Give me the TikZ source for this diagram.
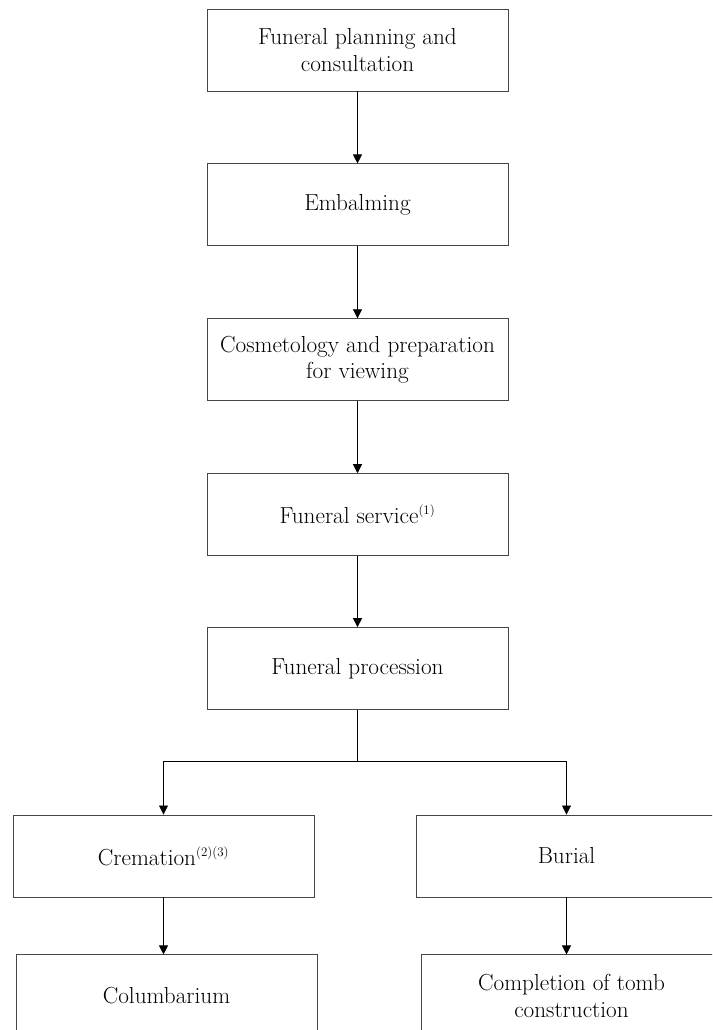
\documentclass[tikz,border=0pt]{standalone}
\usepackage{fontspec}
\usetikzlibrary{positioning, arrows.meta}
\definecolor{boxgray}{RGB}{70,70,70}

\newcommand{\fnmark}[1]{\textsuperscript{\fontsize{13}{13}\selectfont#1}}

\tikzset{
	stepbox/.style = {rectangle, draw = boxgray, line width = 0.9pt, minimum width = 301pt, minimum height = 82pt, align = center, inner sep = 2pt, font = \fontsize{23.2}{26.5}\selectfont},
	link/.style = {line width = 0.8pt, -{Triangle[width = 9pt, length = 9pt]}},
	plainlink/.style = {line width = 0.8pt}
}

\begin{document}
\begin{tikzpicture}

\useasboundingbox (0,0) rectangle (712pt,1030pt);
\clip (0,0) rectangle (712pt,1030pt);

%----------MAIN CHAIN-------------%
\node [stepbox] (plan) at (357.5pt, 980pt) {Funeral planning and\\consultation};
\node [stepbox, below = 72pt of plan] (embalm) {Embalming};
\node [stepbox, below = 72pt of embalm] (cosmet) {Cosmetology and preparation\\for viewing};
\node [stepbox, below = 72pt of cosmet] (service) {Funeral service\fnmark{(1)}};
\node [stepbox, below = 71pt of service] (procession) {Funeral procession};

%----------BRANCHES-------------%
\node [stepbox] (cremation) at (163.5pt, 174pt) {Cremation\fnmark{(2)(3)}};
\node [stepbox] (burial) at (566.5pt, 174pt) {Burial};
\node [stepbox, below = 57pt of cremation, xshift = 3pt] (columbarium) {Columbarium};
\node [stepbox, below = 57pt of burial, xshift = 5pt] (tomb) {Completion of tomb\\construction};

%----------LINKS-------------%
\draw[link] (plan) -- (embalm);
\draw[link] (embalm) -- (cosmet);
\draw[link] (cosmet) -- (service);
\draw[link] (service) -- (procession);
\draw[plainlink] (procession.south) -- ++(0,-51pt) coordinate (split);
\draw[link] (split) -| (cremation.north);
\draw[link] (split) -| (burial.north);
\draw[link] (cremation.south) -- (cremation.south |- columbarium.north);
\draw[link] (burial.south) -- (burial.south |- tomb.north);

\end{tikzpicture}
\end{document}
